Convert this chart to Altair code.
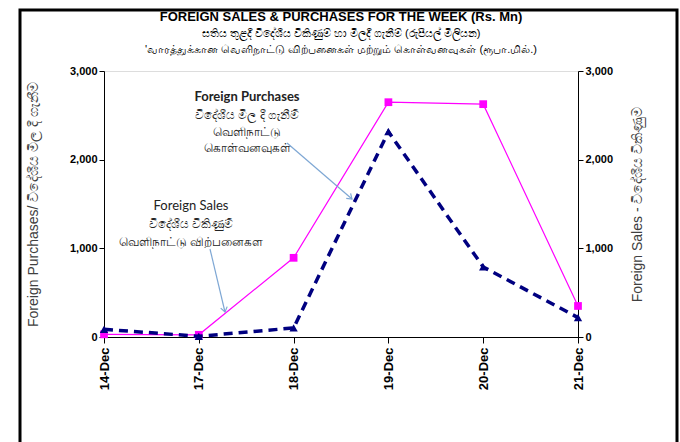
import altair as alt
import pandas as pd

dates = ["14-Dec", "17-Dec", "18-Dec", "19-Dec", "20-Dec", "21-Dec"]
purchases = [30, 25, 893, 2648, 2626, 350]
sales = [87, 8, 102, 2315, 790, 219]

title_main = "FOREIGN SALES & PURCHASES FOR THE WEEK (Rs. Mn)"
title_si = "සතිය තුළදී විදේශීය විකිණුම් හා මිලදී ගැනීම් (රුපියල් මිලියන)"
title_ta = "'வாரத்துக்கான  வெளிநாட்டு  விற்பனைகள்  மற்றும்  கொள்வனவுகள்  (ரூபா.மில்.)"
left_title = "Foreign Purchases/ විදේශීය මිල දී ගැනීම"
right_title = "Foreign Sales  -  විදේශීය විකිණුම"

purch_lines = ["Foreign Purchases", "විදේශීය මිල දී ගැනීම්", "வெளிநாட்டு", "கொள்வனவுகள்"]
sales_lines = ["Foreign Sales", "විදේශීය විකිණුම්", "வெளிநாட்டு  விற்பனைகள"]

df = pd.DataFrame({"date": dates, "purchases": purchases, "sales": sales})

W, H = 474, 266
FONT = "Liberation Sans"

xenc = alt.X("date:N", sort=dates, title=None,
             scale=alt.Scale(type="point", padding=0),
             axis=alt.Axis(labelAngle=270, labelFontSize=13, labelFontWeight="bold",
                           labelColor="black", domainColor="black", tickColor="black",
                           tickSize=6, labelPadding=4, labelFont=FONT))

yscale = alt.Scale(domain=[0, 3000], nice=False)

base = alt.Chart(df)

purch_line = base.mark_line(color="#FF00FF", strokeWidth=1.2).encode(
    x=xenc,
    y=alt.Y("purchases:Q", scale=yscale, title=left_title,
            axis=alt.Axis(values=[0, 1000, 2000, 3000], format=",d", grid=False,
                          labelFontWeight="bold", labelFontSize=11, labelColor="black",
                          labelFont=FONT, domainColor="black", tickColor="black",
                          tickSize=5, titleFontSize=14, titleFontWeight="normal",
                          titleColor="#404040", titleFont=FONT, titlePadding=29)))
purch_pts = base.mark_point(shape="square", filled=True, color="#FF00FF", size=60, opacity=1).encode(
    x=xenc, y=alt.Y("purchases:Q", scale=yscale, axis=None))

sales_line = base.mark_line(color="#000080", strokeWidth=3.5, strokeDash=[9, 6]).encode(
    x=xenc,
    y=alt.Y("sales:Q", scale=yscale, title=right_title,
            axis=alt.Axis(orient="right", values=[0, 1000, 2000, 3000], format=",d", grid=False,
                          labelFontWeight="bold", labelFontSize=11, labelColor="black",
                          labelFont=FONT, domainColor="black", tickColor="black",
                          tickSize=5, titleFontSize=14, titleFontWeight="normal",
                          titleColor="#404040", titleFont=FONT, titlePadding=32,
                          titleAngle=270)))
sales_pts = base.mark_point(shape="triangle-up", filled=True, color="#000080", size=70, opacity=1).encode(
    x=xenc, y=alt.Y("sales:Q", scale=yscale, axis=None))

one = alt.Data(values=[{"a": 1}])

frame = alt.Chart(one).mark_rect(fillOpacity=0, stroke="black", strokeWidth=3).encode(
    x=alt.value(-84), x2=alt.value(573), y=alt.value(-61), y2=alt.value(400))

title_layers = [
    alt.Chart(one).mark_text(text=title_main, font=FONT, fontSize=13, fontWeight="bold",
                             color="black").encode(x=alt.value(237), y=alt.value(-54)),
    alt.Chart(one).mark_text(text=title_si, font=FONT, fontSize=11,
                             color="black").encode(x=alt.value(237), y=alt.value(-37)),
    alt.Chart(one).mark_text(text=title_ta, font=FONT, fontSize=11,
                             color="black").encode(x=alt.value(237), y=alt.value(-21)),
]

ann_layers = []
py = [26, 44, 61, 77]
for i, t in enumerate(purch_lines):
    ann_layers.append(alt.Chart(one).mark_text(
        text=t, font="Lato", fontSize=13 if i == 0 else 12,
        fontWeight="bold" if i == 0 else "normal", color="#222222").encode(
        x=alt.value(143), y=alt.value(py[i])))
sy = [135, 153, 171]
for i, t in enumerate(sales_lines):
    ann_layers.append(alt.Chart(one).mark_text(
        text=t, font="Lato", fontSize=13 if i == 0 else 12, color="#222222").encode(
        x=alt.value(87), y=alt.value(sy[i])))

ARROW = "#7ea7d4"
arr1 = alt.Chart(one).mark_rule(color=ARROW, strokeWidth=1.2).encode(
    x=alt.value(183), y=alt.value(72), x2=alt.value(248), y2=alt.value(128))
arr2 = alt.Chart(one).mark_rule(color=ARROW, strokeWidth=1.2).encode(
    x=alt.value(106), y=alt.value(178), x2=alt.value(121), y2=alt.value(241))
head_path = "M -1 -0.7 L 0 0 L -1 0.7"
head1 = alt.Chart(one).mark_point(shape=head_path, filled=False, color=ARROW, strokeWidth=1.2,
                                  size=90, angle=41, opacity=1).encode(
    x=alt.value(248), y=alt.value(128))
head2 = alt.Chart(one).mark_point(shape=head_path, filled=False, color=ARROW, strokeWidth=1.2,
                                  size=90, angle=77, opacity=1).encode(
    x=alt.value(121), y=alt.value(241))

chart = alt.layer(
    purch_line, purch_pts, sales_line, sales_pts, frame,
    *title_layers, *ann_layers, arr1, arr2, head1, head2
).resolve_scale(y="independent").properties(
    width=W, height=H,
    autosize=alt.AutoSizeParams(type="none"),
    padding={"left": 104, "top": 71, "right": 102, "bottom": 105},
).configure_view(stroke=None).configure(background="white")

chart.save("out.html", embed_options={"renderer": "svg", "actions": False})
